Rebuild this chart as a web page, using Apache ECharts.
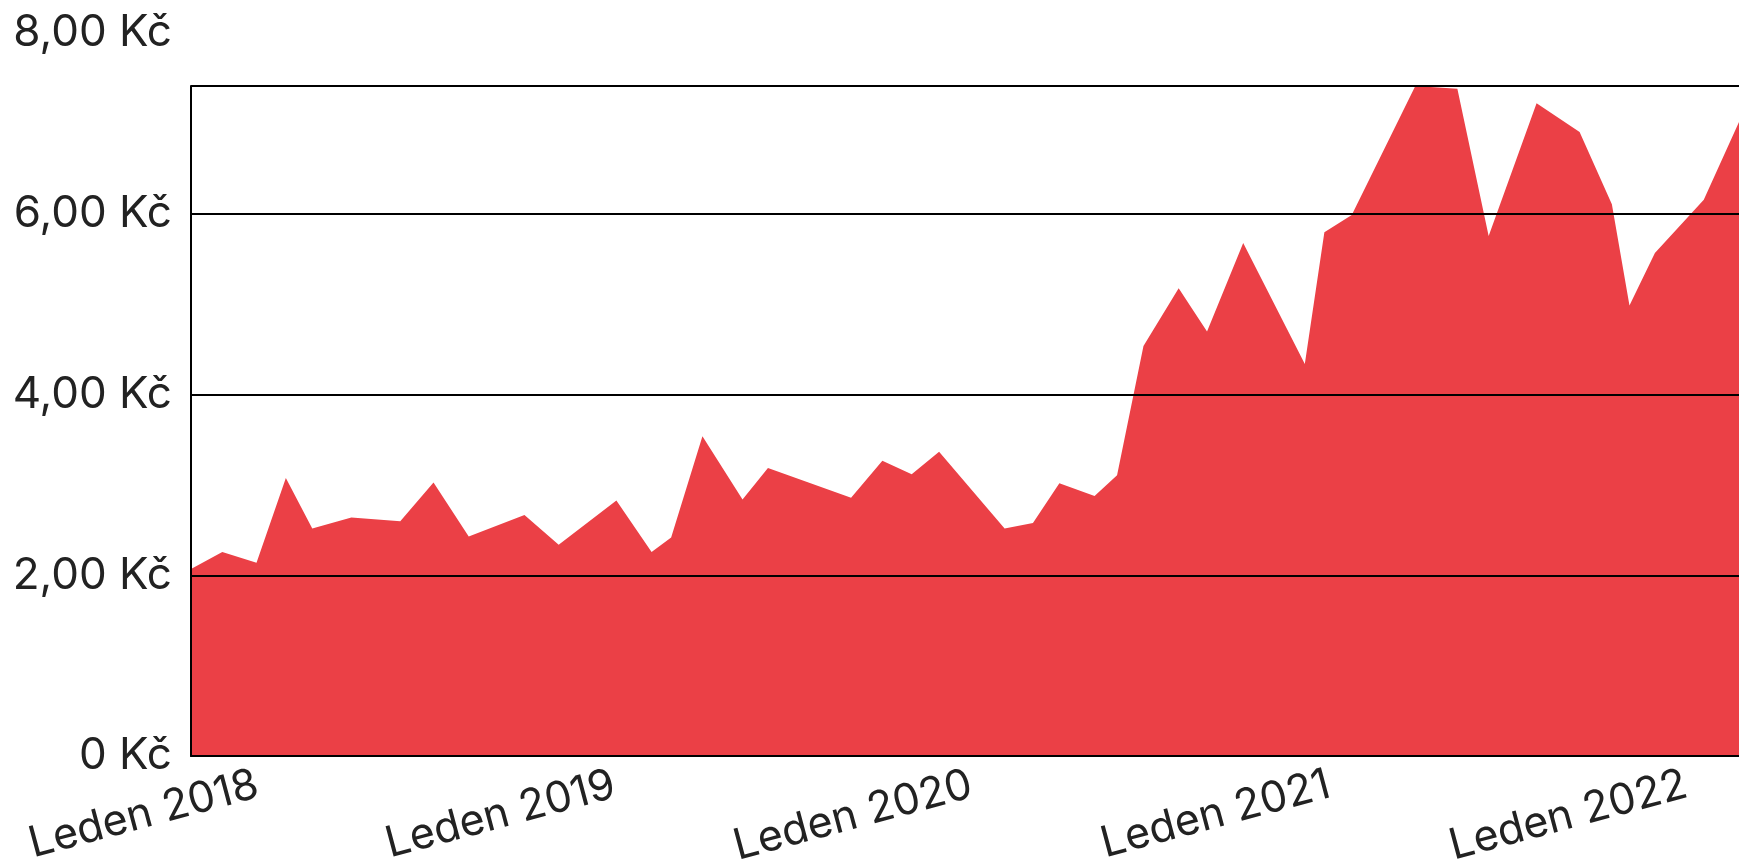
<!DOCTYPE html>
<html>
<head>
<meta charset="utf-8">
<script src="https://cdn.jsdelivr.net/npm/echarts@6/dist/echarts.min.js"></script>
<style>
  html, body { margin: 0; padding: 0; background: #fff; }
  #chart { width: 1739px; height: 866px; }
</style>
</head>
<body>
<div id="chart"></div>
<script>
// datum mereni a cena (Kc)
var dates = [
  '2017-10-25', '2017-11-26', '2017-12-31', '2018-01-30', '2018-02-26', '2018-04-07',
  '2018-05-27', '2018-06-30', '2018-08-05', '2018-10-01', '2018-11-05', '2019-01-03',
  '2019-02-08', '2019-02-28', '2019-04-01', '2019-05-12', '2019-06-07', '2019-08-31',
  '2019-10-02', '2019-11-01', '2019-11-29', '2020-02-04', '2020-03-04', '2020-03-31',
  '2020-05-06', '2020-05-29', '2020-06-25', '2020-07-31', '2020-08-29', '2020-10-05',
  '2020-12-07', '2020-12-27', '2021-01-24', '2021-03-30', '2021-05-12', '2021-06-13',
  '2021-08-01', '2021-09-14', '2021-10-17', '2021-11-04', '2021-11-30', '2022-01-19',
  '2022-02-24'
];
var prices = [
  2.07, 2.26, 2.14, 3.08, 2.52, 2.64,
  2.60, 3.03, 2.43, 2.67, 2.34, 2.83,
  2.26, 2.42, 3.54, 2.84, 3.19, 2.86,
  3.27, 3.12, 3.37, 2.52, 2.58, 3.02,
  2.88, 3.11, 4.54, 5.18, 4.70, 5.68,
  4.34, 5.80, 5.99, 7.42, 7.39, 5.76,
  7.23, 6.91, 6.11, 4.99, 5.57, 6.16,
  7.02
];
var yearTicks = ['2018-01-01', '2019-01-01', '2020-01-01', '2021-01-01', '2022-01-01'];
var yearLabels = ['Leden 2018', 'Leden 2019', 'Leden 2020', 'Leden 2021', 'Leden 2022'];
var yTicks = [0, 2, 4, 6];
var yTopTick = [8];

var chart = echarts.init(document.getElementById('chart'));

function ts(d) { return echarts.time.parse(d).getTime(); }

var tickTimes = yearTicks.map(ts);
var seriesData = dates.map(function (d, i) { return [ts(d), prices[i]]; });

function kc(v) {
  if (v === 0) return '0 Kč';
  return v.toFixed(2).replace('.', ',') + ' Kč';
}

var labelFont = {
  color: '#222',
  fontFamily: 'Inter',
  fontSize: 44
};

option = {
  animation: false,
  backgroundColor: '#fff',
  grid: [
    { left: 191, right: 0, top: 86, bottom: 110, containLabel: false, outerBoundsMode: 'none' },
    { left: 191, right: 0, top: 33, bottom: 110, containLabel: false, outerBoundsMode: 'none' }
  ],
  xAxis: [
    {
      type: 'value',
      gridIndex: 0,
      min: ts(dates[0]),
      max: ts(dates[dates.length - 1]),
      z: 3,
      axisLine: { show: true, onZero: false, lineStyle: { color: '#000', width: 2 } },
      axisTick: { show: false },
      splitLine: { show: false },
      axisLabel: {
        customValues: tickTimes,
        rotate: 15,
        margin: 28,
        color: '#222',
        fontFamily: 'Inter',
        fontSize: 43,
        formatter: function (val) {
          for (var i = 0; i < tickTimes.length; i++) {
            if (Math.abs(tickTimes[i] - val) < 86400000) return yearLabels[i];
          }
          return '';
        }
      }
    },
    { type: 'value', gridIndex: 1, min: 0, max: 1, show: false }
  ],
  yAxis: [
    {
      type: 'value',
      gridIndex: 0,
      min: 0,
      max: 7.42,
      interval: 2,
      z: 3,
      axisLine: { show: true, lineStyle: { color: '#000', width: 2 } },
      axisTick: { show: false },
      splitLine: { show: true, lineStyle: { color: '#000', width: 2 } },
      axisLabel: Object.assign({
        customValues: yTicks,
        margin: 19,
        formatter: kc
      }, labelFont)
    },
    {
      type: 'value',
      gridIndex: 1,
      min: 0,
      max: 8,
      axisLine: { show: false },
      axisTick: { show: false },
      splitLine: { show: false },
      axisLabel: Object.assign({
        customValues: yTopTick,
        margin: 19,
        formatter: kc
      }, labelFont)
    }
  ],
  series: [
    {
      type: 'line',
      xAxisIndex: 0,
      yAxisIndex: 0,
      data: seriesData,
      symbol: 'none',
      lineStyle: { width: 0 },
      areaStyle: { color: '#EB4046', opacity: 1 },
      z: 2
    }
  ]
};

chart.setOption(option);
</script>
</body>
</html>
